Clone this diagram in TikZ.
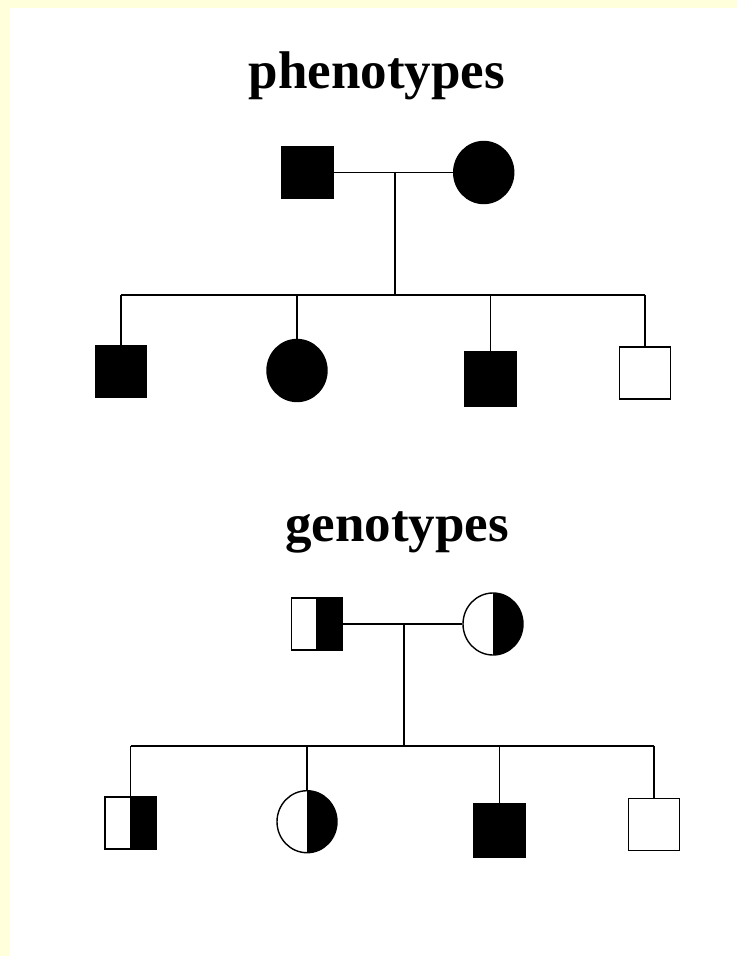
\documentclass[tikz,border=0pt]{standalone}
\usepackage{fontspec}
\setmainfont{Liberation Serif}
\usetikzlibrary{shapes.geometric}
\definecolor{bgyellow}{HTML}{FFFFDC}
\begin{document}
\begin{tikzpicture}[x=1pt,y=-1pt,
  line width=1.8pt,
  title/.style={font=\bfseries\fontsize{53}{60}\selectfont,anchor=base,inner sep=0pt},
  sqbox/.style={rectangle,draw,line width=1.8pt,minimum width=51pt,minimum height=52pt,inner sep=0pt},
  circbox/.style={ellipse,draw,line width=1.4pt,minimum width=60pt,minimum height=62pt,inner sep=0pt},
  aff/.style={fill=black},
  carrier/.style={path picture={\fill[black] (path picture bounding box.north) rectangle (path picture bounding box.south east);}}
]
\useasboundingbox (0,0) rectangle (737,956);
\fill[white] (0,0) rectangle (737,956);
\fill[bgyellow] (0,0) rectangle (737,8);
\fill[bgyellow] (0,0) rectangle (10,956);

% ---------- phenotypes ----------
\node[title] (t1) at (377,88) {phenotypes};
\node[sqbox,aff] (pf) at (307.5,172.5) {};
\node[circbox,aff] (pm) at (483.7,172.5) {};
\coordinate (pmid) at (395,172.5);
\coordinate (psib) at (395,295);
\coordinate (psl) at (121,295);
\coordinate (psr) at (645,295);
\node[sqbox,aff] (pc1) at (121,371.5) {};
\node[circbox,aff] (pc2) at (297,370.5) {};
\node[sqbox,aff,minimum height=54pt] (pc3) at (490.5,379) {};
\node[sqbox] (pc4) at (645,373) {};
\draw (pf) -- (pm);
\draw (pmid) -- (psib);
\draw (psl) -- (psr);
\draw (psl) -- (pc1.north);
\draw (pc2.north |- psl) -- (pc2.north);
\draw (pc3.north |- psl) -- (pc3.north);
\draw (psr) -- (pc4.north);

% ---------- genotypes ----------
\node[title] (t2) at (397,541) {genotypes};
\node[sqbox,carrier] (gf) at (317,624) {};
\node[circbox,carrier] (gm) at (493,624) {};
\coordinate (gmid) at (404,624);
\coordinate (gsib) at (404,746);
\coordinate (gsl) at (130.5,746);
\coordinate (gsr) at (654,746);
\node[sqbox,carrier] (gc1) at (130.5,823) {};
\node[circbox,carrier] (gc2) at (307,821.7) {};
\node[sqbox,aff,minimum height=53pt] (gc3) at (499.5,830.5) {};
\node[sqbox] (gc4) at (654,824.5) {};
\draw (gf) -- (gm);
\draw (gmid) -- (gsib);
\draw (gsl) -- (gsr);
\draw (gsl) -- (gc1.north);
\draw (gc2.north |- gsl) -- (gc2.north);
\draw (gc3.north |- gsl) -- (gc3.north);
\draw (gsr) -- (gc4.north);
% centre dividers of the half-filled symbols
\draw (gf.north) -- (gf.south);
\draw (gc1.north) -- (gc1.south);
\end{tikzpicture}
\end{document}
